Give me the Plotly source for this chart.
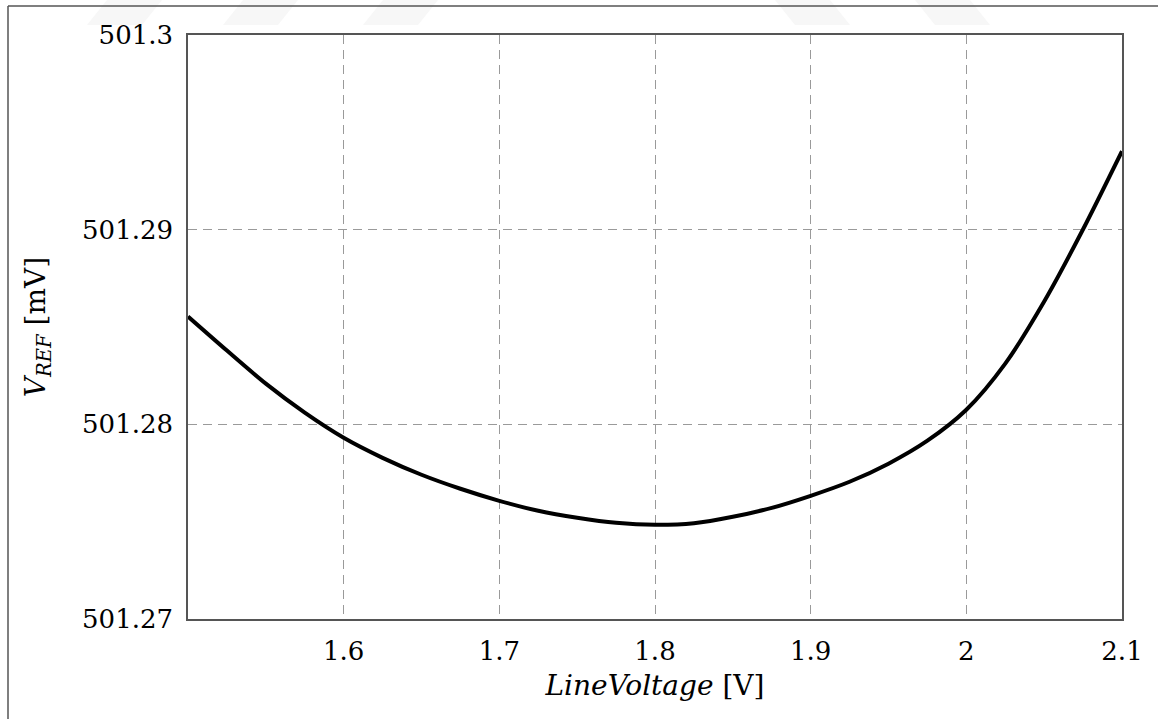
import plotly.graph_objects as go

# Line voltage sweep (V) and the resulting reference voltage (mV)
line_voltage = [1.5, 1.525, 1.55, 1.575, 1.6, 1.625, 1.65, 1.675, 1.7, 1.725,
                1.75, 1.775, 1.8, 1.825, 1.85, 1.875, 1.9, 1.925, 1.95, 1.975,
                2.0, 2.025, 2.05, 2.075, 2.1]
v_ref = [501.28554, 501.28379, 501.28209, 501.28060, 501.27931, 501.27828,
         501.27741, 501.27669, 501.27607, 501.27556, 501.27520, 501.27494,
         501.27484, 501.27492, 501.27525, 501.27571, 501.27633, 501.27705,
         501.27798, 501.27916, 501.28075, 501.28312, 501.28631, 501.29002,
         501.29403]

x_ticks = [1.6, 1.7, 1.8, 1.9, 2.0, 2.1]
x_tick_text = ["1.6", "1.7", "1.8", "1.9", "2", "2.1"]
y_ticks = [501.27, 501.28, 501.29, 501.3]
y_tick_text = ["501.27", "501.28", "501.29", "501.3"]

W, H = 1168, 719
L, R, T, B = 188, 46, 35, 100
pw, ph = W - L - R, H - T - B


def px(x):
    return (x - L) / pw


def py(y):
    return (H - B - y) / ph


font_family = "DejaVu Serif"
label_font = dict(family=font_family, size=26, color="black")
title_font = dict(family=font_family, size=28, color="black")

fig = go.Figure()
fig.add_trace(go.Scatter(
    x=line_voltage, y=v_ref, mode="lines",
    line=dict(color="black", width=4, shape="spline", smoothing=0.8),
    showlegend=False, hoverinfo="x+y",
))

grid = dict(showgrid=True, gridcolor="#9a9a9a", gridwidth=1, griddash="9px,6px",
            showline=True, linecolor="#555555", linewidth=1.5, mirror=True,
            zeroline=False, ticks="", tickfont=label_font)

fig.update_xaxes(range=[1.5, 2.1], tickvals=x_ticks, ticktext=x_tick_text,
                 ticklabelstandoff=8,
                 title=dict(text="<i>LineVoltage</i> [V]", standoff=10, font=title_font),
                 **grid)
fig.update_yaxes(range=[501.27, 501.3], tickvals=y_ticks, ticktext=y_tick_text,
                 ticklabelstandoff=8,
                 title=dict(text="<i>V</i><sub><i>REF</i></sub> [mV]", standoff=28,
                            font=title_font),
                 **grid)

shapes = []
# faint page watermark strokes along the top edge
for x0, slant in [(87, 1), (223, 1), (363, 1), (775, -1), (915, -1)]:
    if slant > 0:
        path = (f"M {px(x0)},{py(25)} L {px(x0 + 55)},{py(25)} "
                f"L {px(x0 + 75)},{py(0)} L {px(x0 + 20)},{py(0)} Z")
    else:
        path = (f"M {px(x0 + 20)},{py(25)} L {px(x0 + 75)},{py(25)} "
                f"L {px(x0 + 55)},{py(0)} L {px(x0)},{py(0)} Z")
    shapes.append(dict(type="path", xref="paper", yref="paper", path=path,
                       fillcolor="#f7f7f7", line=dict(width=0), layer="below"))
# page border (top and left)
shapes.append(dict(type="line", xref="paper", yref="paper",
                   x0=px(8), y0=py(6), x1=px(1158), y1=py(6),
                   line=dict(color="#555555", width=1.5)))
shapes.append(dict(type="line", xref="paper", yref="paper",
                   x0=px(8), y0=py(6), x1=px(8), y1=py(719),
                   line=dict(color="#555555", width=1.5)))

fig.update_layout(
    width=W, height=H,
    margin=dict(l=L, r=R, t=T, b=B),
    paper_bgcolor="white", plot_bgcolor="white",
    font=dict(family=font_family),
    shapes=shapes,
)

fig.write_html("out.html")
